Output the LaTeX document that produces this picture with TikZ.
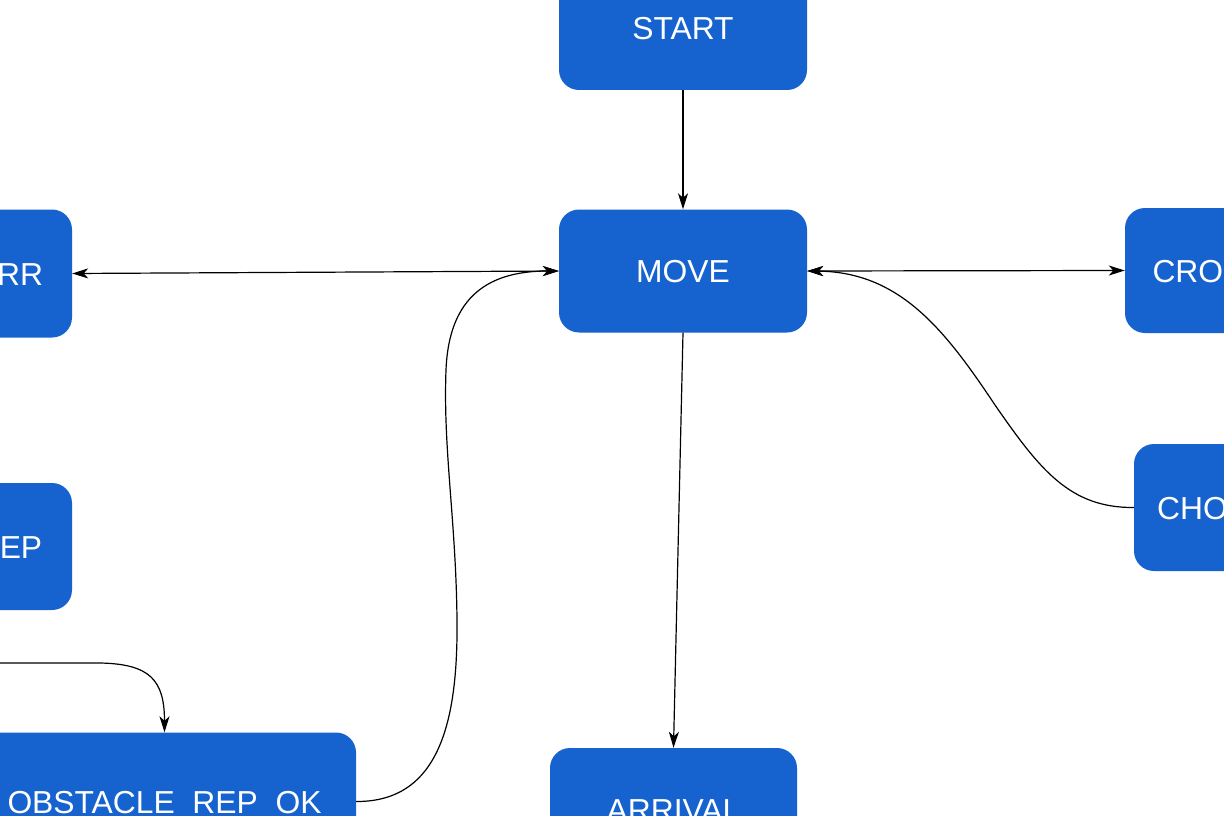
\documentclass[tikz,border=0pt]{standalone}
\usepackage{fontspec}
\setmainfont{Liberation Sans}
\usetikzlibrary{arrows.meta}
\definecolor{boxblue}{RGB}{22,99,207}
\tikzset{
  state/.style={draw=none, fill=boxblue, rounded corners=20pt, text=white,
    font=\fontsize{31.8}{38}\selectfont, inner sep=0pt, text height=23pt, text depth=0pt},
  conn/.style={draw=black, line width=1.2pt, -{Stealth[length=16pt,width=10pt,inset=4.5pt]}},
  bconn/.style={draw=black, line width=1.2pt, {Stealth[length=16pt,width=10pt,inset=4.5pt]}-{Stealth[length=16pt,width=10pt,inset=4.5pt]}}
}
\begin{document}
\begin{tikzpicture}[x=1pt,y=-1pt]
\useasboundingbox (0,0) rectangle (1224,816);
\fill[white] (0,0) rectangle (1224,816);
\clip (0,0) rectangle (1224,816);
\node[state, minimum width=248pt, minimum height=123pt] (start) at (683,28.5) {START};
\node[state, minimum width=248pt, minimum height=123pt] (move) at (683,271) {MOVE};
\node[state, minimum width=247pt, minimum height=123pt] (arrival) at (673.5,809.5) {ARRIVAL};
\node[state, minimum width=310pt, minimum height=128pt] (err) at (-83,273.5) {OBSTACLE\_ERR};
\node[state, minimum width=310pt, minimum height=127pt] (rep) at (-83,546.5) {OBSTACLE\_REP};
\node[state, minimum width=383pt, minimum height=138pt] (repok) at (164.5,801.5) {OBSTACLE\_REP\_OK};
\node[state, minimum width=260pt, minimum height=125pt] (cross) at (1255,270.5) {CROSSROAD};
\node[state, minimum width=170pt, minimum height=127pt] (choice) at (1219,507.5) {CHOICE};
\coordinate (src) at (-40,663);

\draw[conn] (start.south) -- (move.north);
\draw[bconn] (err.east) -- (move.west);
\draw[bconn] (move.east) -- (cross.west);
\draw[conn] (move.south) -- (arrival.north);
\draw[conn] (repok.east) .. controls (440,802) and (458,720) .. (457,620)
  .. controls (456,520) and (443,450) .. (446,370)
  .. controls (449,295) and (490,271) .. (move.west);
\draw[conn] (choice.west) .. controls (1070,508) and (1040,470) .. (995,405)
  .. controls (945,330) and (900,272) .. (move.east);
\draw[conn] (src) -- (100,663) .. controls (150,664) and (164.5,680) .. (repok.north);
\end{tikzpicture}
\end{document}
